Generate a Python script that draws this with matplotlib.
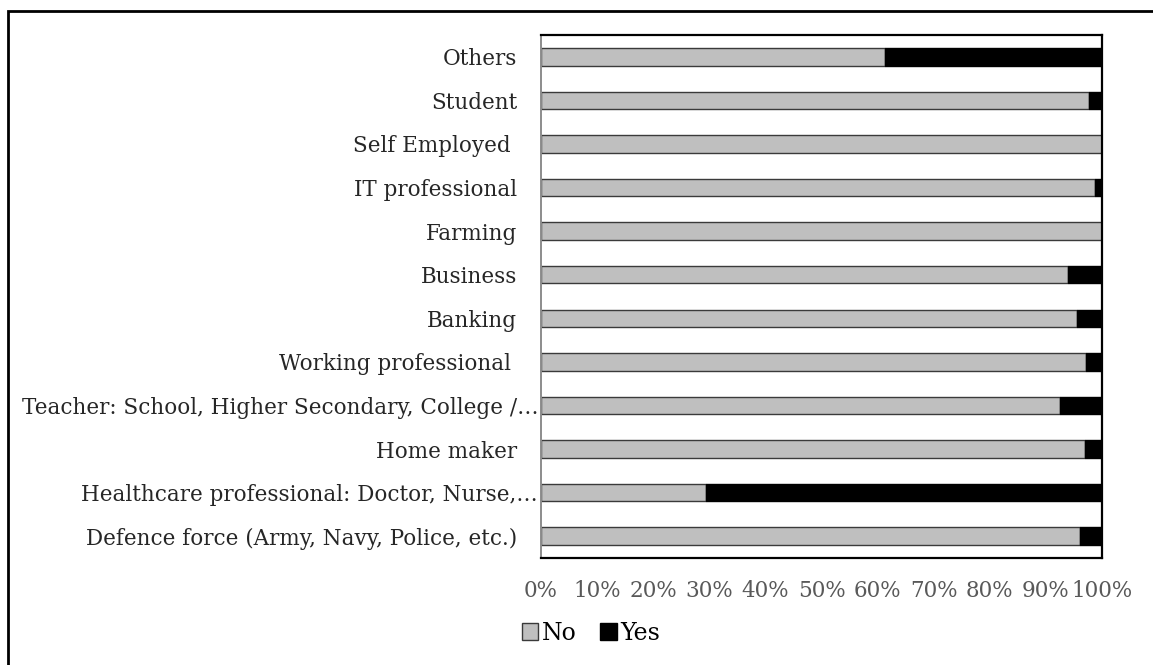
import matplotlib
matplotlib.use("Agg")
import matplotlib.pyplot as plt
from matplotlib.patches import Rectangle
from matplotlib.ticker import FixedLocator

# Occupation categories, bottom to top
categories = [
    "Defence force (Army, Navy, Police, etc.)",
    "Healthcare professional: Doctor, Nurse,\u2026",
    "Home maker",
    "Teacher: School, Higher Secondary, College /\u2026",
    "Working professional ",
    "Banking",
    "Business",
    "Farming",
    "IT professional",
    "Self Employed ",
    "Student",
    "Others",
]

# Share of respondents (%) answering No / Yes
no_pct = [96.1, 29.5, 96.9, 92.5, 97.2, 95.6, 94.0, 100.0, 98.8, 100.0, 97.6, 61.3]
yes_pct = [3.9, 70.5, 3.1, 7.5, 2.8, 4.4, 6.0, 0.0, 1.2, 0.0, 2.4, 38.7]

x_ticks = [0, 10, 20, 30, 40, 50, 60, 70, 80, 90, 100]
x_tick_labels = [f"{v}%" for v in x_ticks]

# Labels that were cut short sit closer to the axis
truncated = {1, 3}

plt.rcParams["font.family"] = ["DejaVu Serif"]
FS = 15.5

fig = plt.figure(figsize=(11.53, 6.65), dpi=100)
ax = fig.add_axes([541 / 1153, 1 - 558 / 665, (1102 - 541) / 1153, (558 - 35) / 665])

y = list(range(len(categories)))
ax.barh(y, no_pct, height=0.4, color="#BFBFBF", edgecolor="#3a3a3a", linewidth=1.0, label="No")
ax.barh(y, yes_pct, left=no_pct, height=0.4, color="#000000", edgecolor="#000000", linewidth=1.0, label="Yes")

ax.set_xlim(0, 100)
ax.set_ylim(-0.5, len(categories) - 0.5)
ax.xaxis.set_major_locator(FixedLocator(x_ticks))
ax.set_xticklabels(x_tick_labels, fontsize=FS, color="#595959")
ax.set_yticks(y)
ax.set_yticklabels(categories, fontsize=FS, color="#262626")
ax.tick_params(axis="both", length=0)
ax.tick_params(axis="x", pad=16)
for i, tick in enumerate(ax.yaxis.get_major_ticks()):
    tick.set_pad(2 if i in truncated else 17)

for side in ("top", "right", "bottom"):
    ax.spines[side].set_color("#000000")
    ax.spines[side].set_linewidth(1.6)
ax.spines["left"].set_color("#8c8c8c")
ax.spines["left"].set_linewidth(1.4)

fig.legend(
    loc="center",
    bbox_to_anchor=(591 / 1153, 1 - 633 / 665),
    ncol=2,
    frameon=False,
    fontsize=FS + 1.5,
    handlelength=0.7,
    handleheight=0.7,
    handletextpad=0.15,
    columnspacing=1.0,
)

# Outer frame around the figure
fig.patches.append(
    Rectangle((8 / 1153, -0.1), 1.2, 1 - 11 / 665 + 0.1,
              transform=fig.transFigure, fill=False,
              edgecolor="#000000", linewidth=2.0)
)

fig.savefig("out.png", dpi=100, facecolor="white")
